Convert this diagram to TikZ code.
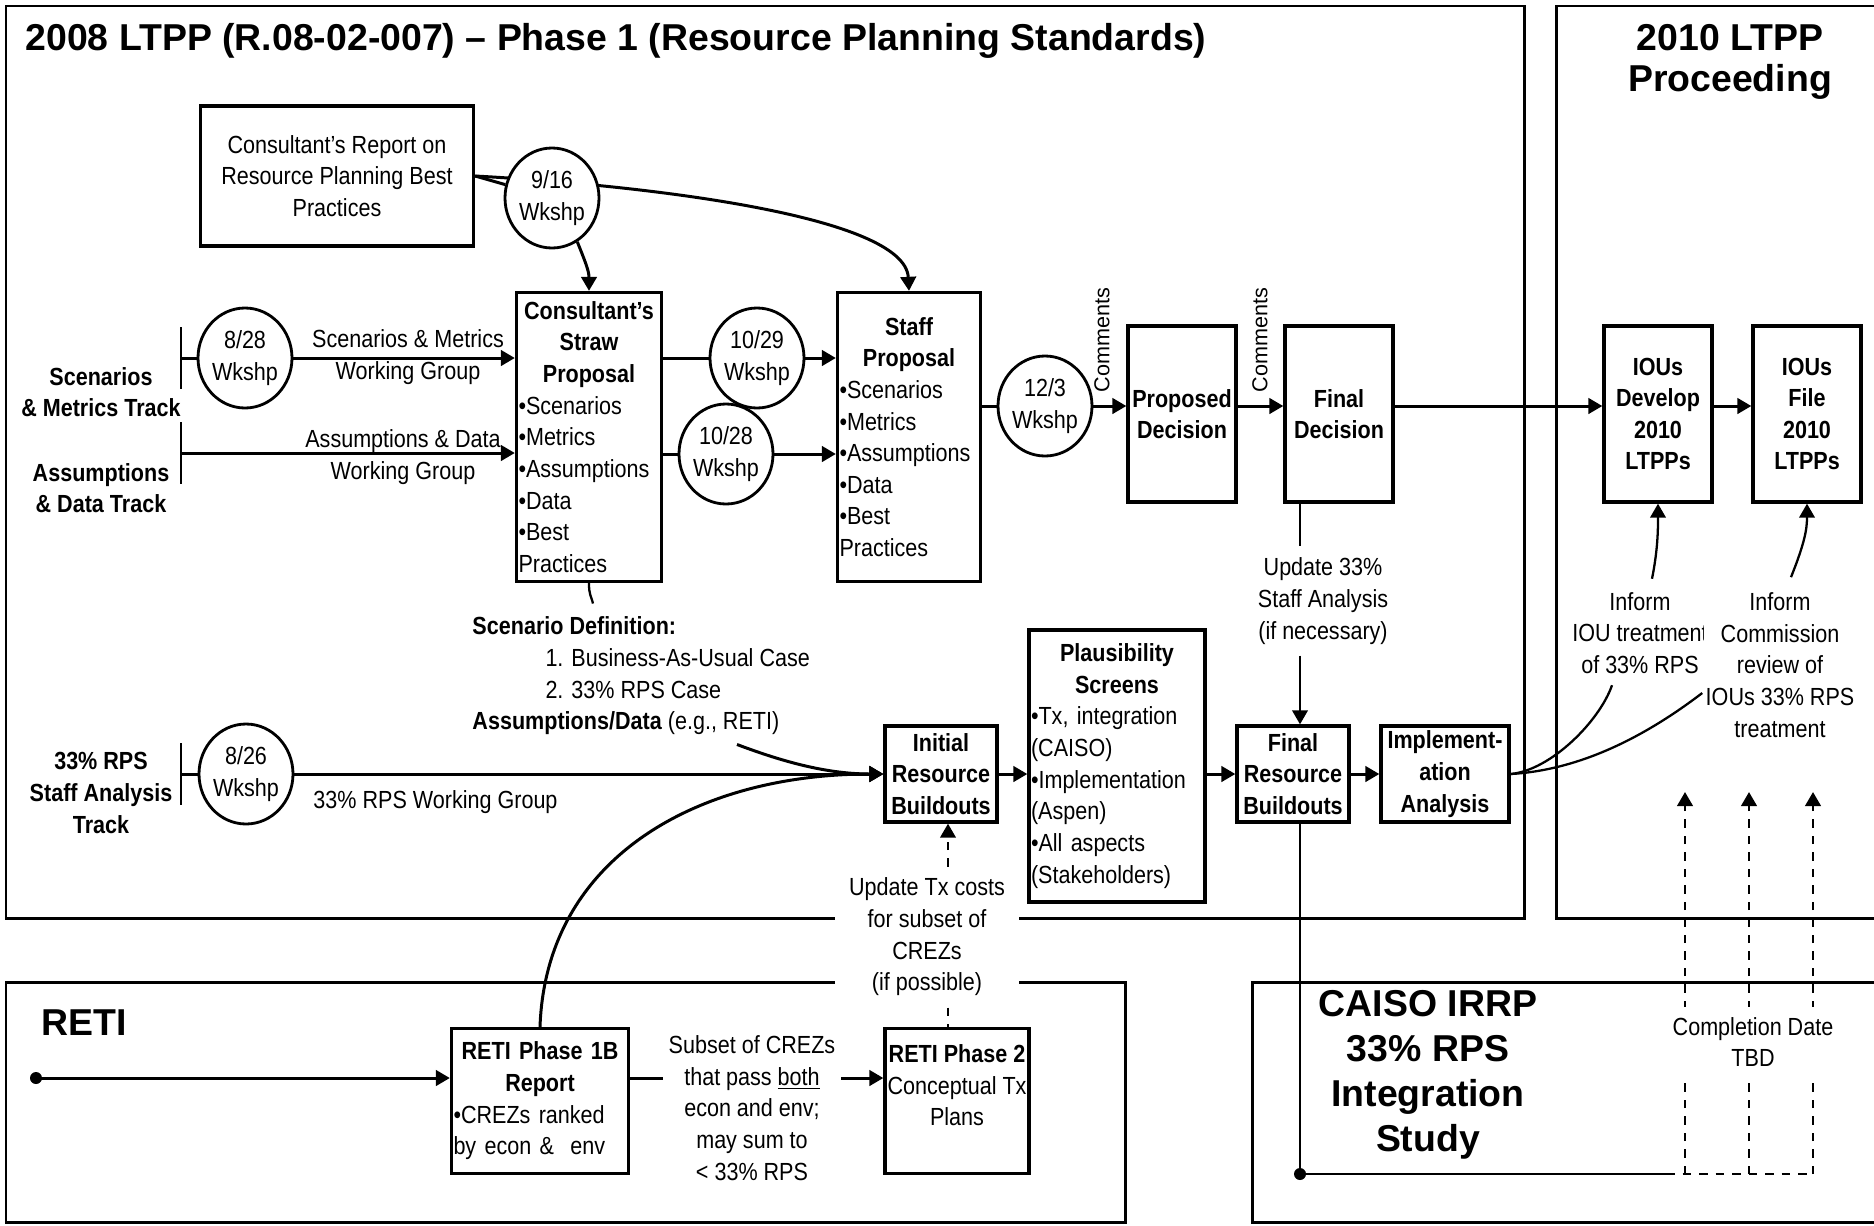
\documentclass[tikz,border=0pt]{standalone}
\usepackage{fontspec}
\setmainfont{Liberation Sans}[FakeStretch=0.87]
\newfontfamily\headfamily{Liberation Sans}
\usepackage{tikz}
\usetikzlibrary{arrows.meta,shapes.geometric,calc,backgrounds}
\setlength{\parindent}{0pt}

\newcommand{\bodyfont}{\fontsize{14.1}{18}\selectfont}
\newcommand{\headfont}{\headfamily\fontsize{21.3}{23.5}\selectfont\bfseries}

\tikzset{
  panel/.style={draw, line width=1.7pt},
  blk/.style={draw, line width=1.9pt, inner sep=0.4mm, font=\bodyfont},
  tallbox/.style={blk, minimum width=21.6mm, minimum height=35.2mm, align=center, font=\bodyfont\bfseries},
  shortbox/.style={blk, minimum width=22.4mm, minimum height=19.2mm, align=center, font=\bodyfont\bfseries},
  wk/.style={ellipse, draw, fill=white, line width=1.6pt, inner sep=0pt, minimum width=18.8mm, minimum height=20mm, align=center, font=\bodyfont},
  lbl/.style={align=center, font=\bodyfont, inner sep=0pt},
  head/.style={align=center, font=\headfont, inner sep=0pt},
  fine/.style={line width=1.3pt},
  dashline/.style={line width=1.4pt, dash pattern=on 1.7mm off 1.6mm},
}

\begin{document}
\begin{tikzpicture}[x=0.2mm, y=-0.2mm, line width=1.7pt, >={Triangle[length=2.8mm,width=3.1mm]}]
\useasboundingbox (0,0) rectangle (1874,1225);

% headings
\node[head, anchor=west] (ttl) at (24,41) {2008 LTPP (R.08-02-007) – Phase 1 (Resource Planning Standards)};
\node[head] (ltpp) at (1730,62) {2010 LTPP\\Proceeding};
\node[head, anchor=west] (retit) at (40,1023) {RETI};
\node[head, font=\headfamily\fontsize{21.3}{25.6}\selectfont\bfseries] (caiso) at (1428,1075) {CAISO IRRP\\33\% RPS\\Integration\\Study};

% tracks
\node[lbl, font=\bodyfont\bfseries] (trk1) at (101,392) {Scenarios\\\& Metrics Track};
\node[lbl, font=\bodyfont\bfseries] (trk2) at (101,488) {Assumptions\\\& Data Track};
\node[lbl, font=\bodyfont\bfseries] (trk3) at (101,793) {33\% RPS\\Staff Analysis\\Track};
\coordinate (bar1) at (181,358);
\coordinate (bar2) at (181,453);
\coordinate (bar3) at (181,774);

% workshops
\node[wk] (w916) at (552,198) {9/16\\Wkshp};
\node[wk] (w828) at (245,358) {8/28\\Wkshp};
\node[wk] (w1029) at (757,358) {10/29\\Wkshp};
\node[wk] (w1028) at (726,454) {10/28\\Wkshp};
\node[wk] (w123) at (1045,406) {12/3\\Wkshp};
\node[wk] (w826) at (246,774) {8/26\\Wkshp};

% boxes
\node[blk, minimum width=54.6mm, minimum height=28mm, align=center] (rpt) at (337,176) {Consultant’s Report on\\Resource Planning Best\\Practices};
\node[blk, text width=28.2mm, minimum height=57.8mm] (straw) at (589,437) {{\centering\bfseries Consultant’s\\Straw\\Proposal\par}•Scenarios\\•Metrics\\•Assumptions\\•Data\\•Best\\Practices};
\node[blk, text width=27.8mm, minimum height=57.8mm] (staff) at (909,437) {{\centering\bfseries Staff\\Proposal\par}•Scenarios\\•Metrics\\•Assumptions\\•Data\\•Best\\Practices};
\node[tallbox] (pdec) at (1182,414) {Proposed\\Decision};
\node[tallbox] (fdec) at (1339,414) {Final\\Decision};
\node[tallbox] (iouD) at (1658,414) {IOUs\\Develop\\2010\\LTPPs};
\node[tallbox] (iouF) at (1807,414) {IOUs\\File\\2010\\LTPPs};
\node[shortbox] (irb) at (941,774) {Initial\\Resource\\Buildouts};
\node[blk, text width=34.4mm, minimum height=54.4mm] (plaus) at (1117,766) {{\centering\bfseries Plausibility\\Screens\par}•Tx, integration\\(CAISO)\\•Implementation\\(Aspen)\\•All aspects\\(Stakeholders)};
\node[shortbox] (frb) at (1293,774) {Final\\Resource\\Buildouts};
\node[shortbox, minimum width=25.6mm] (impl) at (1445,774) {Implement-\\ation\\Analysis};
\node[blk, text width=34.6mm, minimum height=29mm] (reti1) at (540,1101) {{\centering\bfseries RETI Phase 1B\\Report\par}•CREZs ranked\\by econ \&\ \ env};
\node[blk, minimum width=28.8mm, minimum height=29mm, align=center] (reti2) at (957,1101) {\textbf{RETI Phase 2}\\Conceptual Tx\\Plans\\\mbox{}};

% labels
\node[lbl] (wg1) at (408,357) {Scenarios \& Metrics\\Working Group};
\node[lbl] (wg2) at (403,457) {Assumptions \& Data\\Working Group};
\node[lbl, anchor=west] (wg3) at (312,802) {33\% RPS Working Group};
\node[lbl, anchor=west, align=left] (scdef) at (471,676) {\textbf{Scenario Definition:}\\\hspace*{14.6mm}1. Business-As-Usual Case\\\hspace*{14.6mm}2. 33\% RPS Case\\\textbf{Assumptions/Data} (e.g., RETI)};
\node[lbl, rotate=90, font=\headfamily\fontsize{12.3}{14}\selectfont] (cmt1) at (1102,340) {Comments};
\node[lbl, rotate=90, font=\headfamily\fontsize{12.3}{14}\selectfont] (cmt2) at (1260,340) {Comments};
\node[lbl, inner ysep=2mm] (upd) at (1323,601) {Update 33\%\\Staff Analysis\\(if necessary)};
\node[lbl] (inf1) at (1640,633) {Inform\\IOU treatment\\of 33\% RPS};
\node[lbl, fill=white, inner xsep=0.4mm] (inf2) at (1780,665) {Inform\\Commission\\review of\\IOUs 33\% RPS\\treatment};
\node[lbl, fill=white, inner xsep=2.9mm, inner ysep=2mm] (updtx) at (927,937) {Update Tx costs\\for subset of\\CREZs\\(if possible)};
\node[lbl, fill=white, inner xsep=1.2mm] (subs) at (752,1108) {Subset of CREZs\\that pass \underline{both}\\econ and env;\\may sum to\\< 33\% RPS};
\node[lbl, fill=white, inner ysep=2mm] (cdate) at (1753,1042) {Completion Date\\TBD};

% points
\coordinate (rdot) at (36,1078);
\coordinate (cdot) at (1300,1174);
\coordinate (vx) at (1300,0);
\coordinate (tx) at (948,0);
\coordinate (cend) at (1666,1174);
\foreach \i/\xx in {1/1685,2/1749,3/1813} {
  \coordinate (c\i) at (\xx,1174);
  \coordinate (t\i) at (\xx,792);
}

\begin{scope}[on background layer={line width=1.7pt}]
% frames
\draw[panel] (6,6) rectangle (1524,918);
\draw[panel] (1556,6) rectangle (1890,918);
\draw[panel] (6,982) rectangle (1125,1222);
\draw[panel] (1252,982) rectangle (1890,1222);

% top flow
\draw (rpt.east) -- (w916);
\draw[->] (rpt.east) .. controls (640,185) and (905,215) .. (staff.north);
\draw[->] (w916.-60) .. controls +(8,20) and +(0,-20) .. (straw.north);
\foreach \b in {bar1,bar2,bar3} \draw (\b) ++(0,-31) -- ++(0,62);
\draw (bar1) -- (w828);
\draw[->] (w828.east) -- (w828.east -| straw.west);
\draw[->] (bar2) -- (bar2 -| straw.west);
\draw (straw.east |- w1029) -- (w1029);
\draw[->] (w1029) -- (w1029 -| staff.west);
\draw (straw.east |- w1028) -- (w1028);
\draw[->] (w1028) -- (w1028 -| staff.west);
\draw (staff.east |- w123) -- (w123);
\draw[->] (w123) -- (w123 -| pdec.west);
\draw[->] (pdec.east |- w123) -- (fdec.west |- w123);
\draw[->] (fdec.east |- w123) -- (iouD.west |- w123);
\draw[->] (iouD.east |- w123) -- (iouF.west |- w123);

% staff analysis flow
\draw[fine] (straw.south) .. controls +(0,12) and +(-2,-8) .. ($(scdef.north west)+(122,-12)$);
\draw[->] ($(scdef.south west)+(266,8)$) .. controls +(40,15) and +(-60,0) .. (irb.west);
\draw (bar3) -- (w826);
\draw[->] (w826) -- (w826 -| irb.west);
\draw[->] (reti1.north) .. controls +(6,-170) and +(-185,0) .. (irb.west);
\draw[->] (irb.east) -- (irb.east -| plaus.west);
\draw[->] (plaus.east |- frb) -- (frb.west);
\draw[->] (frb) -- (impl);
\draw[fine] (fdec.south -| vx) -- (upd.north -| vx);
\draw[fine, ->] (upd.south -| vx) -- (frb.north -| vx);
\draw[fine] (frb.south -| vx) -- (cdot);
\fill (cdot) circle[radius=6];

% inform links
\draw[fine] (impl.east) .. controls +(41,-4) and +(-12,35) .. ($(inf1.south)+(-28,10)$);
\draw[fine] (impl.east) .. controls +(71,-4) and +(-55,42) .. (inf2.west |- 0,693);
\draw[fine, ->] ($(inf1.north)+(12,-12)$) .. controls +(6,-30) and +(0,25) .. (iouD.south);
\draw[fine, ->] ($(inf2.north)+(11,-14)$) .. controls +(14,-35) and +(0,25) .. (iouF.south);

% RETI flow
\fill (rdot) circle[radius=6];
\draw[->] (rdot) -- (rdot -| reti1.west);
\draw[->] (reti1.east |- rdot) -- (reti2.west |- rdot);
\draw[dashline, ->] (updtx.north -| tx) -- (irb.south -| tx);
\draw[dashline] (updtx.south -| tx) -- (reti2.north -| tx);

% CAISO study
\draw[fine] (cdot) -- (cend);
\draw[dashline] (cend) -- (c3);
\foreach \i in {1,2,3} \draw[dashline, ->] (c\i) -- (t\i);
\end{scope}
\end{tikzpicture}
\end{document}
